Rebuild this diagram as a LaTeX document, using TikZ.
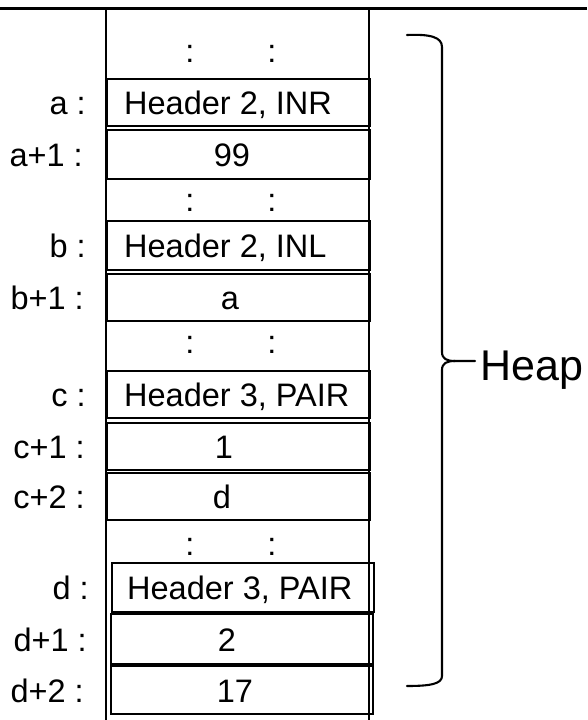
\documentclass[tikz,border=0pt]{standalone}
\usepackage{fontspec}
\setmainfont{Liberation Sans}
\begin{document}
\begin{tikzpicture}[x=1pt,y=-1pt,
  every node/.style={font=\fontsize{32.5}{38}\selectfont, inner sep=0pt},
  cell/.style={draw, line width=1.9pt, anchor=north west, minimum width=263pt},
  txt/.style={anchor=base west},
  val/.style={anchor=base},
  lab/.style={anchor=base east},
  dotc/.style={anchor=base},
  rule/.style={line width=2.3pt},
  brace/.style={line width=2.1pt, line cap=round}]
\useasboundingbox (0,0) rectangle (587,720);

% frame lines
\coordinate (tl) at (0,8.5);
\coordinate (tr) at (587,8.5);
\coordinate (lt) at (106,8.5);
\coordinate (lb) at (106,720);
\coordinate (rt) at (369,8.5);
\coordinate (rb) at (369,720);
\draw[rule] (tl) -- (tr);
\draw[rule] (lt) -- (lb);
\draw[rule] (rt) -- (rb);

% cells
\node[cell, minimum height=47pt] (inr) at (106,78) {};
\node[cell, minimum height=49pt] (v99) at (106,129) {};
\node[cell, minimum height=49pt] (inl) at (106,220) {};
\node[cell, minimum height=47pt] (va) at (106,273) {};
\node[cell, minimum height=47pt] (pc) at (106,370) {};
\node[cell, minimum height=47pt] (v1) at (106,422) {};
\node[cell, minimum height=47pt] (vd) at (106,472) {};
\node[cell, minimum height=49pt, minimum width=262pt] (pd) at (111,562) {};
\node[cell, minimum height=50pt, minimum width=262pt] (v2) at (110,613) {};
\node[cell, minimum height=48pt, minimum width=262pt] (v17) at (110,665) {};

% cell texts
\node[txt] (inrT) at (124,114.5) {Header 2, INR};
\node[val] (v99T) at (232,166.5) {99};
\node[txt] (inlT) at (124,257.5) {Header 2, INL};
\node[val] (vaT) at (230,309.5) {a};
\node[txt] (pcT) at (124,406.5) {Header 3, PAIR};
\node[val] (v1T) at (224,458.5) {1};
\node[val] (vdT) at (222,508.5) {d};
\node[txt] (pdT) at (127,599.5) {Header 3, PAIR};
\node[val] (v2T) at (227,651) {2};
\node[val] (v17T) at (235,702) {17};

% address labels
\node[lab] (la) at (86,114.5) {a :};
\node[lab] (la1) at (83,166.5) {a+1 :};
\node[lab] (lb0) at (86,257.5) {b :};
\node[lab] (lb1) at (84,309.5) {b+1 :};
\node[lab] (lc) at (86,406.5) {c :};
\node[lab] (lc1) at (85,458.5) {c+1 :};
\node[lab] (lc2) at (85,508.5) {c+2 :};
\node[lab] (ld) at (89,599.5) {d :};
\node[lab] (ld1) at (87,651) {d+1 :};
\node[lab] (ld2) at (84,702) {d+2 :};

% ellipsis rows
\node[dotc] (d1a) at (190,62) {:};
\node[dotc] (d1b) at (272,62) {:};
\node[dotc] (d2a) at (190,211) {:};
\node[dotc] (d2b) at (272,211) {:};
\node[dotc] (d3a) at (190,353) {:};
\node[dotc] (d3b) at (272,353) {:};
\node[dotc] (d4a) at (190,555) {:};
\node[dotc] (d4b) at (272,555) {:};

% brace
\coordinate (bt) at (407,35);
\coordinate (bb) at (407,686);
\coordinate (bm) at (455,361);
\coordinate (btip) at (475,361);
\draw[brace] (bt) .. controls (430,34) and (442,37) .. (442,47) -- (442,352)
  .. controls (442,359) and (447,361) .. (bm) -- (btip);
\draw[brace] (bm) .. controls (447,361) and (442,363) .. (442,370) -- (442,676)
  .. controls (442,684) and (430,686) .. (bb);

\node[anchor=base west, font=\fontsize{43}{50}\selectfont] (heap) at (480,380) {Heap};
\end{tikzpicture}
\end{document}
